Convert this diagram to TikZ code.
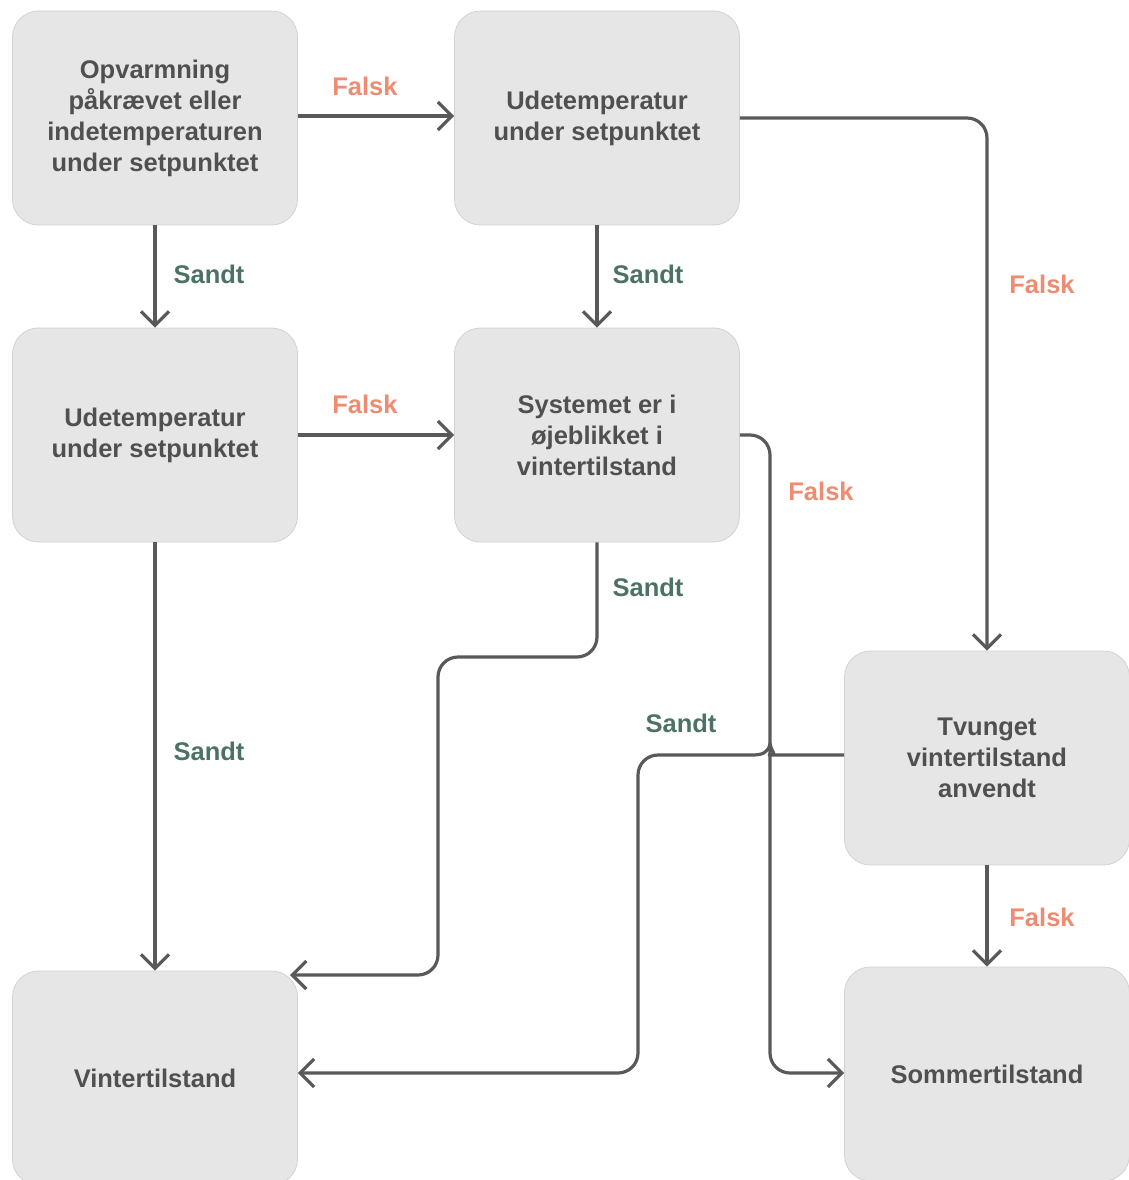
\documentclass[tikz,border=0pt]{standalone}
\usepackage{fontspec}
\setmainfont{Liberation Sans}
\usetikzlibrary{arrows.meta}
\definecolor{boxfill}{HTML}{E6E6E6}
\definecolor{boxline}{HTML}{D2D2D2}
\definecolor{txt}{HTML}{505050}
\definecolor{conn}{HTML}{595959}
\definecolor{falsk}{HTML}{EE8B70}
\definecolor{sandt}{HTML}{4B7262}
\begin{document}
\begin{tikzpicture}[x=1pt,y=-1pt,
  box/.style={draw=boxline, line width=0.8pt, fill=boxfill, rounded corners=26,
    minimum width=285, minimum height=214, inner sep=0pt, align=center,
    text=txt, font=\fontsize{25.5}{31}\selectfont\bfseries},
  link/.style={draw=conn, line width=3.2pt, rounded corners=20,
    -{Straight Barb[length=14,width=28,line width=3.2pt]}},
  lblF/.style={text=falsk, font=\fontsize{25.5}{28}\selectfont\bfseries},
  lblS/.style={text=sandt, font=\fontsize{25.5}{28}\selectfont\bfseries}]
\useasboundingbox (0,0) rectangle (1129,1180);
\node[box] (A) at (155,118) {Opvarmning\\påkrævet eller\\indetemperaturen\\under setpunktet};
\node[box] (B) at (597,118) {Udetemperatur\\under setpunktet};
\node[box] (C) at (155,435) {Udetemperatur\\under setpunktet};
\node[box] (D) at (597,435) {Systemet er i\\øjeblikket i\\vintertilstand};
\node[box] (E) at (987,758) {Tvunget\\vintertilstand\\anvendt};
\node[box] (F) at (155,1078) {Vintertilstand};
\node[box] (G) at (987,1074) {Sommertilstand};
\coordinate (fend) at (290,975);
% connectors
\draw[link] (A.east |- 0,116) -- (B.west |- 0,116);
\draw[link] (A.south) -- (C.north);
\draw[link] (B.south) -- (D.north);
\draw[link] (B.east) -- (987,118) -- (E.north);
\draw[link] (C.east) -- (D.west);
\draw[link] (C.south) -- (F.north);
\draw[link] (D.south) -- (597,657) -- (438,657) -- (438,975) -- (fend);
\draw[link] (D.east) -- (770,435) -- (770,1073) -- (G.west |- 0,1073);
\draw[link] (E.west |- 0,755) -- (788,755) [sharp corners]
  .. controls (778,755) and (772,753) .. (770,744)
  .. controls (768,753) and (762,755) .. (752,755)
  [rounded corners=20] -- (638,755) -- (638,1073) -- (F.east |- 0,1073);
\draw[link] (E.south) -- (G.north);
% labels
\node[lblF] (l1) at (365,86) {Falsk};
\node[lblS] (l2) at (209,274) {Sandt};
\node[lblS] (l3) at (648,274) {Sandt};
\node[lblF] (l4) at (1042,284) {Falsk};
\node[lblF] (l5) at (365,404) {Falsk};
\node[lblF] (l6) at (821,491) {Falsk};
\node[lblS] (l7) at (648,587) {Sandt};
\node[lblS] (l8) at (681,723) {Sandt};
\node[lblS] (l9) at (209,751) {Sandt};
\node[lblF] (l10) at (1042,917) {Falsk};
\end{tikzpicture}
\end{document}
